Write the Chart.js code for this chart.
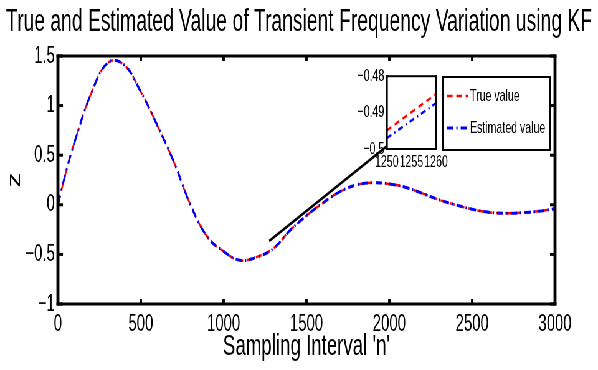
<!DOCTYPE html>
<html>
<head>
<meta charset="utf-8">
<script src="https://cdn.jsdelivr.net/npm/chart.js@4.4.0/dist/chart.umd.min.js"></script>
<style>
html, body { margin: 0; padding: 0; background: #fff; overflow: hidden; }
/* the figure is drawn wide and squeezed, like the narrow matlab export */
#stage { position: relative; width: 960px; height: 370px; transform: scaleX(0.6229); transform-origin: 0 0; }
#main { position: absolute; left: 0; top: 0; }
#zoom { position: absolute; left: 575px; top: 62px; }
</style>
</head>
<body>
<div id="stage">
  <canvas id="main" width="960" height="370"></canvas>
  <canvas id="zoom" width="149" height="113"></canvas>
</div>
<script>
const SX = 598 / 960;
const FONT = "'Liberation Sans', Arial, sans-serif";

// sampling interval and the two curves
const n = [0, 50, 100, 200, 300, 400, 500, 600, 700, 800, 900, 1000, 1100, 1200, 1300, 1400, 1500,
  1600, 1700, 1800, 1900, 2000, 2100, 2200, 2300, 2400, 2500, 2600, 2700, 2800, 2900, 3000];
const trueZ = [0, 0.34, 0.63, 1.12, 1.43, 1.41, 1.14, 0.80, 0.43, 0.0, -0.32, -0.47, -0.56, -0.525, -0.44, -0.26, -0.11,
  0.02, 0.13, 0.20, 0.222, 0.21, 0.175, 0.115, 0.05, 0.0, -0.045, -0.075, -0.085, -0.08, -0.065, -0.04];
const estZ = [0, 0.34, 0.63, 1.12, 1.43, 1.41, 1.14, 0.80, 0.43, 0.0, -0.32, -0.47, -0.56, -0.527, -0.442, -0.26, -0.11,
  0.02, 0.13, 0.20, 0.222, 0.21, 0.175, 0.115, 0.05, 0.0, -0.045, -0.075, -0.085, -0.08, -0.065, -0.04];

// arrow from the curve to the zoom box
const pointerN = [1275, 1985];
const pointerZ = [-0.365, 0.59];

// zoomed part
const zoomN = [1250, 1255, 1260];
const zoomTrue = [-0.4949, -0.4899, -0.4849];
const zoomEst = [-0.4970, -0.4922, -0.4874];

const xTicks = [0, 500, 1000, 1500, 2000, 2500, 3000];
const yTicks = [-1, -0.5, 0, 0.5, 1, 1.5];
const zoomXTicks = [1250, 1255, 1260];
const zoomYTicks = [-0.5, -0.49, -0.48];

const legendOrder = ['True value', 'Estimated value'];

function pts(xs, ys) {
  return xs.map((x, i) => ({ x: x, y: ys[i] }));
}
function fmt(v) {
  return String(Math.round(v * 1000) / 1000).replace('-', '\u2212');
}

// black box and inward ticks, matlab style
const boxPlugin = {
  id: 'boxPlugin',
  afterDatasetsDraw(chart) {
    const a = chart.chartArea, ctx = chart.ctx;
    const h = 3, v = 3 / SX, tl = 5;
    ctx.save();
    ctx.fillStyle = '#000';
    xTicks.forEach(t => {
      const px = chart.scales.x.getPixelForValue(t);
      ctx.fillRect(px - 1.2 / SX, a.bottom - tl, 2.4 / SX, tl);
      ctx.fillRect(px - 1.2 / SX, a.top, 2.4 / SX, tl);
    });
    yTicks.forEach(t => {
      const py = chart.scales.y.getPixelForValue(t);
      ctx.fillRect(a.left, py - 1.5, tl / SX, 3);
      ctx.fillRect(a.right - tl / SX, py - 1.5, tl / SX, 3);
    });
    ctx.fillRect(a.left - v / 2, a.top - h / 2, a.right - a.left + v, h);
    ctx.fillRect(a.left - v / 2, a.bottom - h / 2, a.right - a.left + v, h);
    ctx.fillRect(a.left - v / 2, a.top - h / 2, v, a.bottom - a.top + h);
    ctx.fillRect(a.right - v / 2, a.top - h / 2, v, a.bottom - a.top + h);
    ctx.restore();
  }
};

// legend box inside the axes, top right
const legendPlugin = {
  id: 'legendPlugin',
  afterDraw(chart) {
    const ctx = chart.ctx;
    const x0 = 443 / SX, x1 = 550 / SX, y0 = 77, y1 = 150;
    ctx.save();
    ctx.fillStyle = '#fff';
    ctx.fillRect(x0, y0, x1 - x0, y1 - y0);
    ctx.fillStyle = '#000';
    ctx.fillRect(x0, y0 - 1, x1 - x0, 2);
    ctx.fillRect(x0, y1 - 1, x1 - x0, 2);
    ctx.fillRect(x0 - 1.6, y0 - 1, 3.2, y1 - y0 + 2);
    ctx.fillRect(x1 - 1.6, y0 - 1, 3.2, y1 - y0 + 2);
    const rows = [96, 128];
    legendOrder.forEach((lab, i) => {
      const ds = chart.data.datasets.find(d => d.label === lab);
      const y = rows[i];
      ctx.strokeStyle = ds.borderColor;
      ctx.lineWidth = ds.borderWidth;
      ctx.setLineDash(ds.borderDash || []);
      ctx.beginPath();
      ctx.moveTo(447 / SX, y);
      ctx.lineTo(468 / SX, y);
      ctx.stroke();
      ctx.setLineDash([]);
      ctx.fillStyle = '#000';
      ctx.font = '17px ' + FONT;
      ctx.textBaseline = 'middle';
      ctx.fillText(lab, 470 / SX, y);
    });
    ctx.restore();
  }
};

new Chart(document.getElementById('main'), {
  type: 'line',
  data: {
    datasets: [
      {
        label: 'Estimated value',
        data: pts(n, estZ),
        borderColor: '#0000ff',
        borderWidth: 3,
        borderDash: [10, 5, 2, 5],
        pointRadius: 0,
        tension: 0.4,
        order: 0
      },
      {
        label: 'True value',
        data: pts(n, trueZ),
        borderColor: '#ff0000',
        borderWidth: 2.5,
        borderDash: [9, 6],
        pointRadius: 0,
        tension: 0.4,
        order: 1
      },
      {
        label: 'pointer',
        data: pts(pointerN, pointerZ),
        borderColor: '#000',
        borderWidth: 3,
        pointRadius: 0,
        tension: 0,
        order: 2
      }
    ]
  },
  options: {
    responsive: false,
    animation: false,
    layout: { padding: 0 },
    plugins: {
      legend: { display: false },
      tooltip: { enabled: false },
      title: {
        display: true,
        text: 'True and Estimated Value of Transient Frequency Variation using KF',
        color: '#000',
        font: { family: FONT, size: 31, weight: 'normal' },
        padding: { top: 3.5, bottom: 15.3 }
      }
    },
    scales: {
      x: {
        type: 'linear',
        min: 0,
        max: 3000,
        grid: { display: false, drawTicks: false },
        border: { display: false },
        afterBuildTicks: s => { s.ticks = xTicks.map(v => ({ value: v })); },
        ticks: { color: '#000', font: { family: FONT, size: 24 }, padding: 6, maxRotation: 0, autoSkip: false, callback: v => fmt(v) },
        title: { display: true, text: "Sampling Interval 'n'", color: '#000', font: { family: FONT, size: 30 }, padding: { top: 0, bottom: 5 } },
        afterFit: s => { s.height = 66; }
      },
      y: {
        min: -1,
        max: 1.5,
        grid: { display: false, drawTicks: false },
        border: { display: false },
        afterBuildTicks: s => { s.ticks = yTicks.map(v => ({ value: v })); },
        ticks: { color: '#000', font: { family: FONT, size: 24 }, padding: 5, callback: v => fmt(v) },
        title: { display: true, text: 'z', color: '#000', font: { family: FONT, size: 30 }, padding: { top: 6, bottom: 0 } },
        afterFit: s => { s.width = 93; }
      },
      // empty strip on the right so the title stays centred on the page
      side: {
        position: 'right',
        grid: { display: false, drawTicks: false },
        border: { display: false },
        ticks: { display: false },
        afterFit: s => { s.width = 69; }
      }
    }
  },
  plugins: [boxPlugin, legendPlugin]
});

// zoom box: white axes with a thin black frame
const zoomBox = {
  id: 'zoomBox',
  beforeDatasetsDraw(chart) {
    const a = chart.chartArea, ctx = chart.ctx;
    ctx.save();
    ctx.fillStyle = '#fff';
    ctx.fillRect(a.left, a.top, a.right - a.left, a.bottom - a.top);
    ctx.restore();
  },
  afterDatasetsDraw(chart) {
    const a = chart.chartArea, ctx = chart.ctx;
    const h = 2, v = 2 / SX;
    ctx.save();
    ctx.fillStyle = '#000';
    ctx.fillRect(a.left - v / 2, a.top - h / 2, a.right - a.left + v, h);
    ctx.fillRect(a.left - v / 2, a.bottom - h / 2, a.right - a.left + v, h);
    ctx.fillRect(a.left - v / 2, a.top - h / 2, v, a.bottom - a.top + h);
    ctx.fillRect(a.right - v / 2, a.top - h / 2, v, a.bottom - a.top + h);
    ctx.restore();
  }
};

new Chart(document.getElementById('zoom'), {
  type: 'line',
  data: {
    datasets: [
      {
        label: 'Estimated value',
        data: pts(zoomN, zoomEst),
        borderColor: '#0000ff',
        borderWidth: 2.5,
        borderDash: [8, 5, 2, 5],
        pointRadius: 0,
        order: 1
      },
      {
        label: 'True value',
        data: pts(zoomN, zoomTrue),
        borderColor: '#ff0000',
        borderWidth: 2.5,
        borderDash: [8, 6],
        pointRadius: 0,
        order: 0
      }
    ]
  },
  options: {
    responsive: false,
    animation: false,
    layout: { padding: { left: 0, right: 24, top: 12, bottom: 0 } },
    plugins: { legend: { display: false }, tooltip: { enabled: false } },
    scales: {
      x: {
        type: 'linear',
        min: 1250,
        max: 1260,
        grid: { display: false, drawTicks: false },
        border: { display: false },
        afterBuildTicks: s => { s.ticks = zoomXTicks.map(v => ({ value: v })); },
        ticks: { color: '#000', font: { family: FONT, size: 17 }, padding: 3, maxRotation: 0, autoSkip: false, callback: v => fmt(v) },
        afterFit: s => { s.height = 26; }
      },
      y: {
        min: -0.5,
        max: -0.48,
        grid: { display: false, drawTicks: false },
        border: { display: false },
        afterBuildTicks: s => { s.ticks = zoomYTicks.map(v => ({ value: v })); },
        ticks: { color: '#000', font: { family: FONT, size: 17 }, padding: 4, autoSkip: false, callback: v => fmt(v) },
        afterFit: s => { s.width = 46; }
      }
    }
  },
  plugins: [zoomBox]
});
</script>
</body>
</html>
